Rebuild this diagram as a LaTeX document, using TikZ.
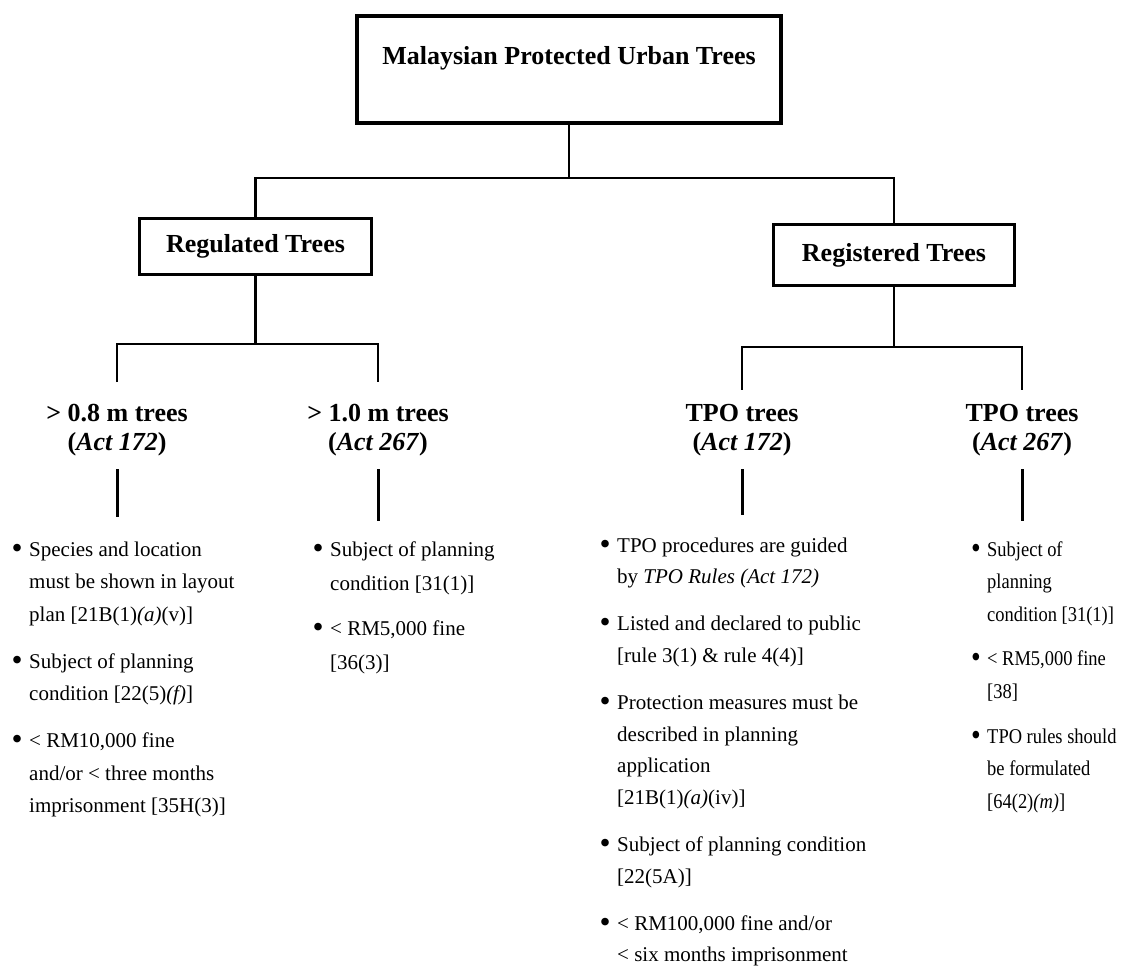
\documentclass[tikz,border=0pt]{standalone}
\usepackage{fontspec}
\usepackage{graphicx}
\setmainfont{Liberation Serif}
\newfontfamily\narrowfont[FakeStretch=0.88]{Liberation Serif}
\newcommand\mybul{\llap{\raisebox{-2pt}{\scalebox{1.5}{\textbullet}}\hspace{6.5pt}}}
\begin{document}
\begin{tikzpicture}[x=1pt,y=-1pt,
  line/.style={line width=2.4pt},
  box/.style={draw, line width=3.6pt, inner sep=0pt},
  bt/.style={font=\fontsize{26}{28}\selectfont\bfseries},
  head/.style={font=\fontsize{26}{29}\selectfont\bfseries, align=center, inner sep=0pt, anchor=base},
  list/.style={anchor=base west, inner sep=0pt},
  stub/.style={line width=3pt}
]
\useasboundingbox (0,0) rectangle (1123,979);

% top box
\node[box, line width=4pt, minimum width=424pt, minimum height=107pt] (top) at (569,69.5) {};
\node[bt, anchor=base] (title) at (569,64.5) {Malaysian Protected Urban Trees};

% second level
\node[box, bt, minimum width=232pt, minimum height=56pt] (regd) at (255.5,246.5) {Regulated Trees};
\node[box, bt, minimum width=241pt, minimum height=61pt] (regs) at (894,255) {Registered Trees};

\coordinate (j1) at (569,178);
\draw[line] (top.south) -- (j1);
\draw[line] (regd.north) |- (j1) -| (regs.north);

% headings (base = last line)
\node[head] (h1) at (117,450) {> 0.8 m trees\\(\textit{Act 172})};
\node[head] (h2) at (378,450) {> 1.0 m trees\\(\textit{Act 267})};
\node[head] (h3) at (742,450) {TPO trees\\(\textit{Act 172})};
\node[head] (h4) at (1022,450) {TPO trees\\(\textit{Act 267})};

\coordinate (j2) at (255.5,344);
\coordinate (j3) at (894,347);
\draw[line] (regd.south) -- (j2);
\draw[line] (regs.south) -- (j3);
\draw[line, shorten <=21.5pt, shorten >=21.5pt] (h1.north) |- (j2) -| (h2.north);
\draw[line, shorten <=14pt, shorten >=14pt] (h3.north) |- (j3) -| (h4.north);

% lists
\node[list, font=\fontsize{21}{32.5}\selectfont] (l1) at (29,556) {\begin{tabular}[t]{@{}l@{}}
\mybul Species and location\\
must be shown in layout\\
plan [21B(1)\textit{(a)}(v)]\\[14.5pt]
\mybul Subject of planning\\
condition [22(5)\textit{(f)}]\\[14.5pt]
\mybul < RM10,000 fine\\
and/or < three months\\
imprisonment [35H(3)]
\end{tabular}};

\node[list, font=\fontsize{21}{34}\selectfont] (l2) at (330,556) {\begin{tabular}[t]{@{}l@{}}
\mybul Subject of planning\\
condition [31(1)]\\[11pt]
\mybul < RM5,000 fine\\
{}[36(3)]
\end{tabular}};

\node[list, font=\fontsize{21}{31.8}\selectfont] (l3) at (617,552) {\begin{tabular}[t]{@{}l@{}}
\mybul TPO procedures are guided\\
by \textit{TPO Rules (Act 172)}\\[15pt]
\mybul Listed and declared to public\\
{}[rule 3(1) \& rule 4(4)]\\[15pt]
\mybul Protection measures must be\\
described in planning\\
application\\
{}[21B(1)\textit{(a)}(iv)]\\[15pt]
\mybul Subject of planning condition\\
{}[22(5A)]\\[15pt]
\mybul < RM100,000 fine and/or\\
< six months imprisonment
\end{tabular}};

\node[list, font=\narrowfont\fontsize{21}{32.8}\selectfont] (l4) at (987,556) {\begin{tabular}[t]{@{}l@{}}
\mybul Subject of\\
planning\\
condition [31(1)]\\[11.5pt]
\mybul < RM5,000 fine\\
{}[38]\\[11.5pt]
\mybul TPO rules should\\
be formulated\\
{}[64(2)\textit{(m)}]
\end{tabular}};

% stubs
\draw[stub, shorten <=13.5pt, shorten >=16pt] (h1.south) -- (h1.south |- l1.north);
\draw[stub, shorten <=13.5pt, shorten >=11pt] (h2.south) -- (h2.south |- l2.north);
\draw[stub, shorten <=13.5pt, shorten >=14.5pt] (h3.south) -- (h3.south |- l3.north);
\draw[stub, shorten <=13.5pt, shorten >=12pt] (h4.south) -- (h4.south |- l4.north);
\end{tikzpicture}
\end{document}
